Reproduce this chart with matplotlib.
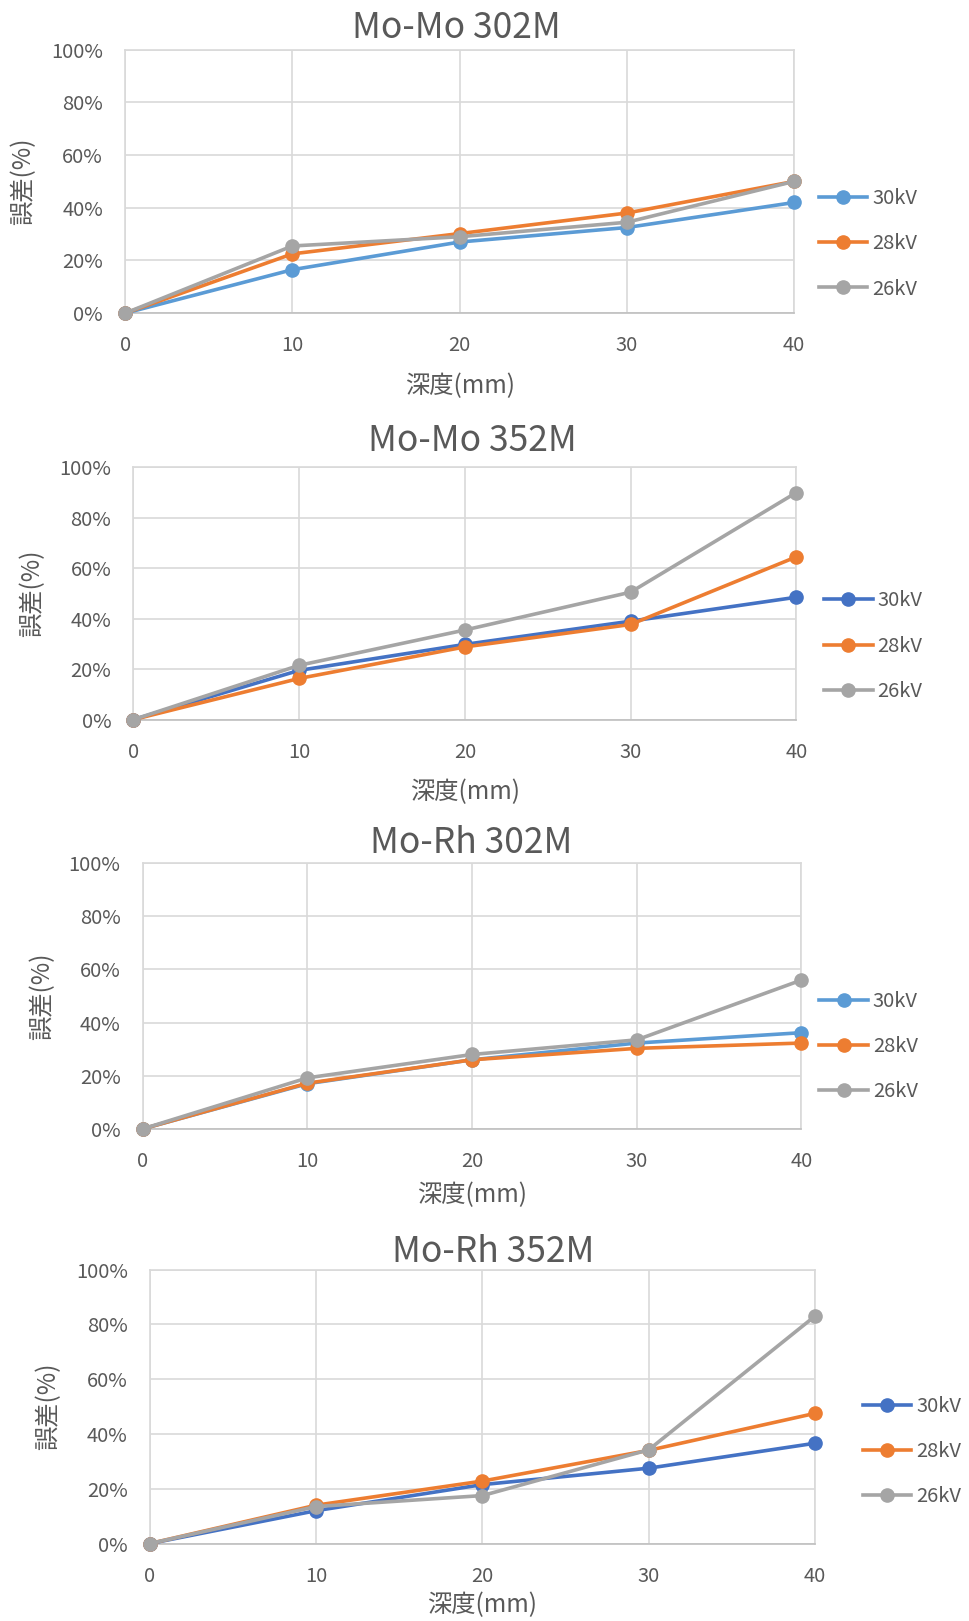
import matplotlib
matplotlib.use("Agg")
import matplotlib.pyplot as plt
from matplotlib.ticker import PercentFormatter

plt.rcParams['font.family'] = ['Noto Sans CJK JP', 'DejaVu Sans']

depth = [0, 10, 20, 30, 40]
labels = ["30kV", "28kV", "26kV"]
titles = ["Mo-Mo 302M", "Mo-Mo 352M", "Mo-Rh 302M", "Mo-Rh 352M"]

# error ratios per panel, order 30kV, 28kV, 26kV
momo302 = [[0, 0.165, 0.27, 0.325, 0.42],
           [0, 0.225, 0.302, 0.38, 0.50],
           [0, 0.255, 0.29, 0.345, 0.50]]
momo352 = [[0, 0.195, 0.298, 0.39, 0.485],
           [0, 0.163, 0.288, 0.377, 0.645],
           [0, 0.215, 0.355, 0.505, 0.90]]
morh302 = [[0, 0.17, 0.26, 0.323, 0.362],
           [0, 0.172, 0.26, 0.303, 0.323],
           [0, 0.192, 0.28, 0.335, 0.56]]
morh352 = [[0, 0.12, 0.215, 0.275, 0.366],
           [0, 0.14, 0.228, 0.34, 0.475],
           [0, 0.135, 0.175, 0.342, 0.83]]
panels = [momo302, momo352, morh302, morh352]

blue_light = "#5B9BD5"
blue_dark = "#4472C4"
orange = "#ED7D31"
gray = "#A5A5A5"
colors = [[blue_light, orange, gray], [blue_dark, orange, gray],
          [blue_light, orange, gray], [blue_dark, orange, gray]]

# layout in figure fractions (left, right, top, bottom)
boxes = [(0.1291, 0.8196, 0.9694, 0.8068),
         (0.1377, 0.8218, 0.7117, 0.5561),
         (0.1473, 0.8271, 0.4675, 0.3036),
         (0.1548, 0.8410, 0.2168, 0.0478)]
title_x = [0.495, 0.512, 0.498, 0.516]
title_off = [22, 26, 20, 18]
xlabel_y = [-0.275, -0.287, -0.249, -0.226]
leg_pos = [(1.025, 0.263), (1.030, 0.291), (1.015, 0.311), (1.060, 0.336)]

txt = "#595959"
grid_c = "#D9D9D9"

fig = plt.figure(figsize=(9.69, 16.21), dpi=100)

for i, data in enumerate(panels):
    l, r, t, b = boxes[i]
    ax = fig.add_axes([l, b, r - l, t - b])
    for j, ys in enumerate(data):
        ax.plot(depth, ys, color=colors[i][j], lw=2.6, marker='o',
                markersize=9.5, label=labels[j], clip_on=False, zorder=3 + j)
    ax.set_xlim(0, 40)
    ax.set_ylim(0, 1)
    ax.set_xticks(depth)
    ax.set_yticks([0, 0.2, 0.4, 0.6, 0.8, 1.0])
    ax.yaxis.set_major_formatter(PercentFormatter(1.0, decimals=0))
    ax.grid(True, color=grid_c, lw=1.2)
    ax.set_axisbelow(True)
    for s in ax.spines.values():
        s.set_color(grid_c)
        s.set_linewidth(1.2)
    ax.spines['bottom'].set_color("#BFBFBF")
    ax.tick_params(axis='both', length=0, labelsize=14.5, labelcolor=txt)
    ax.tick_params(axis='x', pad=16)
    ax.tick_params(axis='y', pad=16)

    h_px = (t - b) * 1621
    ax.set_title(titles[i], x=title_x[i], y=1 + title_off[i] / h_px, pad=0,
                 va='center', fontsize=25.5, color=txt)
    ax.set_xlabel("深度(mm)", fontsize=17.5, color=txt)
    ax.xaxis.label.set_va('center')
    ax.xaxis.set_label_coords(0.5, xlabel_y[i])
    ax.set_ylabel("誤差(%)", fontsize=17.5, color=txt)
    ax.yaxis.label.set_va('center')
    ax.yaxis.set_label_coords(-0.153, 0.5)

    leg = ax.legend(loc='center left', bbox_to_anchor=leg_pos[i], frameon=False,
                    fontsize=14.5, handlelength=2.4, labelspacing=1.2,
                    handletextpad=0.25, borderaxespad=0)
    for tx in leg.get_texts():
        tx.set_color(txt)

fig.savefig("out.png", dpi=100, facecolor="white")
